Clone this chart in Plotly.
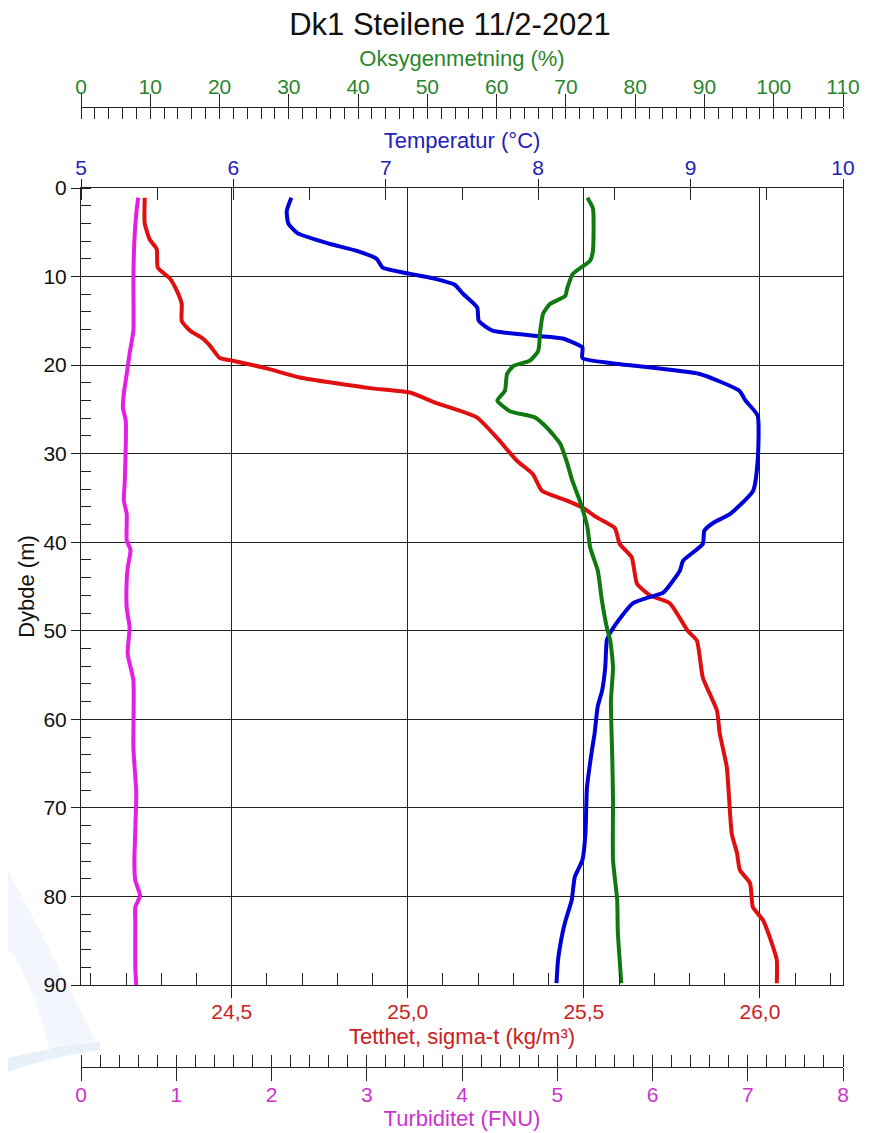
import plotly.graph_objects as go

# ---------------- data ----------------
temp_depth = [1.1, 2.6, 4.0, 5.1, 6.3, 7.1, 8.0, 9.0, 9.7, 10.2, 10.9, 12.0, 13.5, 15.0,
              16.1, 16.7, 17.0, 18.0, 19.2, 19.9, 20.1, 21.0, 22.9, 24.0, 25.7, 30.8,
              34.2, 36.8, 37.8, 38.7, 40.2, 42.1, 43.2, 45.7, 46.2, 46.9, 48.3, 50.3,
              51.1, 54.1, 56.7, 58.6, 61.6, 63.8, 67.7, 72.9, 75.9, 77.8, 80.4, 82.7,
              84.1, 87.2, 89.8]
temperature = [6.38, 6.35, 6.36, 6.42, 6.63, 6.81, 6.94, 6.98, 7.16, 7.31, 7.45, 7.51, 7.60, 7.61,
               7.70, 7.99, 8.16, 8.29, 8.29, 8.54, 8.65, 9.06, 9.32, 9.36, 9.44, 9.44,
               9.41, 9.26, 9.15, 9.09, 9.08, 8.95, 8.93, 8.82, 8.73, 8.62, 8.55, 8.47,
               8.45, 8.44, 8.42, 8.39, 8.37, 8.35, 8.32, 8.31, 8.29, 8.24, 8.22, 8.18,
               8.16, 8.13, 8.12]

oxy_depth = [1.1, 2.3, 7.1, 8.2, 9.7, 11.3, 12.2, 13.1, 14.2, 16.1, 18.4, 19.5, 20.1, 21.0,
             22.9, 24.0, 25.2, 25.9, 27.1, 28.9, 31.1, 33.0, 35.3, 38.3, 40.6, 43.2,
             46.6, 49.6, 51.1, 54.1, 57.9, 64.6, 69.1, 75.9, 80.4, 84.1, 89.8]
oxygen = [73.1, 73.9, 73.9, 73.5, 71.0, 70.2, 69.9, 67.7, 66.7, 66.3, 66.0, 64.8, 62.4, 61.5,
          61.2, 60.1, 61.9, 65.5, 67.3, 69.2, 70.2, 70.9, 72.0, 73.1, 73.5, 74.6,
          75.2, 75.9, 76.4, 76.8, 76.5, 76.7, 76.8, 76.8, 77.4, 77.5, 78.0]

dens_depth = [1.1, 4.0, 5.8, 6.9, 9.0, 10.2, 11.6, 13.1, 15.0, 16.1, 17.0, 17.8, 19.2, 19.5,
              20.4, 21.4, 22.6, 23.1, 24.3, 25.9, 28.2, 30.8, 32.3, 34.2, 35.3, 36.1,
              37.2, 38.4, 40.2, 41.7, 44.7, 46.0, 46.9, 50.0, 51.1, 55.3, 59.0, 61.6,
              65.4, 72.9, 75.1, 77.0, 78.5, 81.2, 82.7, 85.3, 87.2, 89.8]
density = [24.253, 24.253, 24.267, 24.287, 24.290, 24.324, 24.344, 24.358, 24.358, 24.381,
           24.418, 24.438, 24.466, 24.503, 24.602, 24.693, 24.892, 25.006, 25.082, 25.196,
           25.253, 25.310, 25.355, 25.381, 25.452, 25.497, 25.537, 25.588, 25.602, 25.636,
           25.651, 25.688, 25.744, 25.795, 25.821, 25.838, 25.878, 25.886, 25.906, 25.920,
           25.935, 25.943, 25.972, 25.980, 26.009, 26.034, 26.048, 26.048]

turb_depth = [1.1, 2.9, 6.0, 10.5, 16.1, 18.7, 21.0, 23.2, 24.8, 26.3, 33.0, 35.3, 36.8,
              39.8, 40.9, 42.9, 44.3, 47.4, 49.6, 52.6, 55.6, 63.2, 68.3, 72.5, 76.2,
              78.2, 79.9, 81.2, 82.7, 88.0, 90.0]
turbidity = [0.60, 0.58, 0.56, 0.55, 0.55, 0.51, 0.48, 0.45, 0.44, 0.47, 0.46, 0.45, 0.48,
             0.48, 0.52, 0.49, 0.48, 0.48, 0.51, 0.49, 0.55, 0.55, 0.58, 0.57, 0.56,
             0.57, 0.62, 0.57, 0.57, 0.57, 0.58]

# ---------------- styling ----------------
FONT = "Liberation Sans, Arial, sans-serif"
C_BLUE, C_GREEN, C_RED, C_MAG = "#0000d8", "#107a10", "#e01010", "#e41ee4"
L_BLUE, L_GREEN, L_RED, L_MAG = "#2222b8", "#2b862b", "#cc2020", "#cc33cc"
AX = "#222222"
TICK_FS, TITLE_FS = 21, 22

fig = go.Figure()
fig.add_trace(go.Scatter(x=turbidity, y=turb_depth, xaxis="x4", yaxis="y", mode="lines",
                         line=dict(color=C_MAG, width=4, shape="spline", smoothing=0.5),
                         showlegend=False, hoverinfo="skip"))
fig.add_trace(go.Scatter(x=density, y=dens_depth, xaxis="x", yaxis="y", mode="lines",
                         line=dict(color=C_RED, width=4, shape="spline", smoothing=0.5),
                         showlegend=False, hoverinfo="skip"))
fig.add_trace(go.Scatter(x=oxygen, y=oxy_depth, xaxis="x3", yaxis="y", mode="lines",
                         line=dict(color=C_GREEN, width=4, shape="spline", smoothing=0.5),
                         showlegend=False, hoverinfo="skip"))
fig.add_trace(go.Scatter(x=temperature, y=temp_depth, xaxis="x2", yaxis="y", mode="lines",
                         line=dict(color=C_BLUE, width=4, shape="spline", smoothing=0.5),
                         showlegend=False, hoverinfo="skip"))

OFF = 8  # page body margin added by the html page
W, H = 873, 1133
TOP, BOT = 107 - OFF, 1067 - OFF
L, R = 81 - OFF, 843 - OFF
ph = BOT - TOP
dom_top = 1 - (188 - OFF - TOP) / ph
dom_bot = 1 - (985 - OFF - TOP) / ph


def px(x):
    return (x - OFF - L) / (R - L)


def py(y):
    return 1 - (y - OFF - TOP) / ph


# faint watermark swoosh at the lower left
swoosh = (f"M {px(8)},{py(870)} C {px(40)},{py(930)} {px(70)},{py(990)} {px(95)},{py(1040)} "
          f"L {px(50)},{py(1050)} C {px(35)},{py(1000)} {px(22)},{py(960)} {px(8)},{py(950)} Z")
swoosh2 = (f"M {px(8)},{py(1058)} C {px(40)},{py(1050)} {px(70)},{py(1045)} {px(100)},{py(1041)} "
           f"L {px(100)},{py(1050)} C {px(60)},{py(1056)} {px(30)},{py(1064)} {px(8)},{py(1072)} Z")

fig.update_layout(
    shapes=[dict(type="path", path=swoosh, xref="paper", yref="paper", layer="below",
                 fillcolor="rgba(170,200,238,0.14)", line=dict(width=0)),
            dict(type="path", path=swoosh2, xref="paper", yref="paper", layer="below",
                 fillcolor="rgba(130,175,228,0.18)", line=dict(width=0))],
    width=W, height=H,
    margin=dict(l=L, r=W - R, t=TOP, b=H - BOT, pad=0, autoexpand=False),
    paper_bgcolor="white", plot_bgcolor="rgba(0,0,0,0)",
    separators=",.",
    font=dict(family=FONT, size=17, color="#111"),
    title=dict(text="Dk1 Steilene 11/2-2021", x=(450 - OFF) / W, xref="container", xanchor="center",
               y=1 - (24 - OFF) / H, yref="container", yanchor="middle",
               font=dict(family=FONT, size=31, color="#111")),
    yaxis=dict(domain=[dom_bot, dom_top], range=[90, 0], tick0=0, dtick=10, automargin=False,
               ticks="outside", ticklen=9, tickcolor=AX, tickwidth=1,
               showgrid=True, gridcolor=AX, gridwidth=1, zeroline=False,
               showline=True, linecolor=AX, linewidth=1, mirror=True,
               tickfont=dict(size=TICK_FS, color="#111"),
               minor=dict(dtick=2, tick0=0, ticks="inside", ticklen=10, tickcolor=AX, showgrid=False),
               title=dict(text="Dybde (m)", font=dict(size=TITLE_FS, color="#111"), standoff=2)),
    xaxis=dict(anchor="y", range=[24.072, 26.236], tick0=24.5, dtick=0.5, tickformat=".1f",
               automargin=False, ticklabelstandoff=-4,
               ticks="outside", ticklen=12, tickcolor=AX, tickwidth=1,
               showgrid=True, gridcolor=AX, gridwidth=1, zeroline=False,
               showline=True, linecolor=AX, linewidth=1,
               tickfont=dict(size=TICK_FS, color=L_RED),
               minor=dict(dtick=0.1, tick0=24.5, ticks="inside", ticklen=12, tickcolor=AX, showgrid=False),
               title=dict(text="Tetthet, sigma-t (kg/m³)", font=dict(size=TITLE_FS, color=L_RED), standoff=6)),
    xaxis2=dict(overlaying="x", side="top", anchor="y", range=[5, 10], tick0=5, dtick=1,
                automargin=False, ticklabelstandoff=-4,
                ticks="outside", ticklen=8, tickcolor=AX, tickwidth=1,
                showgrid=False, zeroline=False, showline=True, linecolor=AX, linewidth=1,
                tickfont=dict(size=TICK_FS, color=L_BLUE),
                minor=dict(dtick=0.5, tick0=5, ticks="inside", ticklen=12, tickcolor=AX, showgrid=False),
                title=dict(text="Temperatur (°C)", font=dict(size=TITLE_FS, color=L_BLUE), standoff=0)),
    xaxis3=dict(overlaying="x", side="top", anchor="free", position=1, range=[0, 110],
                automargin=False, ticklabelstandoff=-8,
                tick0=0, dtick=10, ticks="outside", ticklen=13, tickcolor=AX, tickwidth=1,
                showgrid=False, zeroline=False, showline=True, linecolor=AX, linewidth=1,
                tickfont=dict(size=TICK_FS, color=L_GREEN),
                minor=dict(dtick=2, tick0=0, ticks="inside", ticklen=11, tickcolor=AX, showgrid=False),
                title=dict(text="Oksygenmetning (%)", font=dict(size=TITLE_FS, color=L_GREEN), standoff=0)),
    xaxis5=dict(overlaying="x", side="top", anchor="free", position=1, range=[0, 110],
                automargin=False,
                tick0=0, dtick=10, ticks="inside", ticklen=13, tickcolor=AX, tickwidth=1,
                showticklabels=False, showgrid=False, zeroline=False, showline=False),
    xaxis4=dict(overlaying="x", side="bottom", anchor="free", position=0, range=[0, 8],
                automargin=False, ticklabelstandoff=-4,
                tick0=0, dtick=1, ticks="outside", ticklen=13, tickcolor=AX, tickwidth=1,
                showgrid=False, zeroline=False, showline=True, linecolor=AX, linewidth=1,
                tickfont=dict(size=TICK_FS, color=L_MAG),
                minor=dict(dtick=0.2, tick0=0, ticks="inside", ticklen=12, tickcolor=AX, showgrid=False),
                title=dict(text="Turbiditet (FNU)", font=dict(size=TITLE_FS, color=L_MAG), standoff=4)),
    xaxis6=dict(overlaying="x", side="bottom", anchor="free", position=0, range=[0, 8],
                automargin=False,
                tick0=0, dtick=1, ticks="inside", ticklen=13, tickcolor=AX, tickwidth=1,
                showticklabels=False, showgrid=False, zeroline=False, showline=False),
)

fig.write_html("out.html")
